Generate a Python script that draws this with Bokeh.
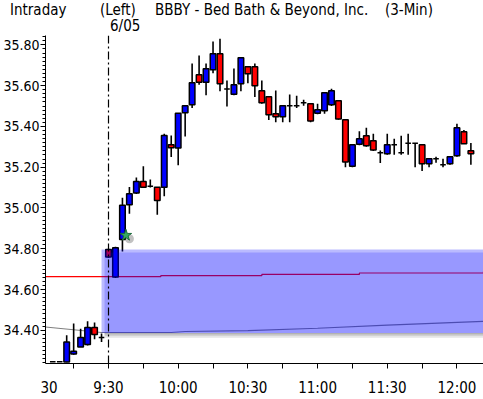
from bokeh.plotting import figure
from bokeh.layouts import column
from bokeh.models import (ColumnDataSource, Span, FixedTicker, LinearAxis, Div,
                          SingleIntervalTicker, NumeralTickFormatter)
from bokeh.embed import file_html
from bokeh.resources import INLINE

FONT = "DejaVu Sans Condensed"

# ---- data (3-min bars; index 0 = 9:30 bar of 6/05, negatives = prior session) ----
bar_index = list(range(-8, 53))
opens = [34.245, 34.245, 34.244, 34.284, 34.318, 34.330, 34.413, 34.364,
         34.796, 34.661, 34.845, 35.016, 35.073, 35.130, 35.107, 35.102,
         35.102, 35.310, 35.294, 35.467, 35.506, 35.653, 35.617, 35.678,
         35.756, 35.583, 35.558, 35.609, 35.693, 35.693, 35.575, 35.545,
         35.462, 35.447, 35.501, 35.501, 35.516, 35.511, 35.465, 35.477,
         35.506, 35.526, 35.433, 35.204, 35.313, 35.354, 35.330, 35.271,
         35.266, 35.310, 35.271, 35.318, 35.318, 35.310, 35.217, 35.242,
         35.212, 35.217, 35.256, 35.374, 35.281]
highs = [34.245, 34.245, 34.375, 34.433, 34.408, 34.444, 34.438, 34.384,
         34.800, 34.810, 35.050, 35.103, 35.150, 35.204, 35.140, 35.102,
         35.364, 35.356, 35.464, 35.501, 35.709, 35.748, 35.709, 35.817,
         35.830, 35.625, 35.684, 35.737, 35.693, 35.709, 35.625, 35.545,
         35.576, 35.501, 35.557, 35.550, 35.531, 35.511, 35.511, 35.565,
         35.585, 35.526, 35.433, 35.310, 35.376, 35.394, 35.364, 35.282,
         35.364, 35.340, 35.354, 35.364, 35.318, 35.310, 35.242, 35.251,
         35.242, 35.251, 35.413, 35.383, 35.319]
lows = [34.245, 34.245, 34.243, 34.280, 34.318, 34.325, 34.356, 34.343,
        34.755, 34.656, 34.787, 34.972, 35.068, 35.098, 35.100, 34.967,
        35.058, 35.250, 35.210, 35.351, 35.490, 35.604, 35.553, 35.661,
        35.573, 35.498, 35.553, 35.573, 35.612, 35.544, 35.511, 35.431,
        35.421, 35.421, 35.421, 35.490, 35.501, 35.420, 35.460, 35.462,
        35.500, 35.433, 35.200, 35.200, 35.308, 35.300, 35.279, 35.220,
        35.261, 35.261, 35.261, 35.261, 35.200, 35.181, 35.200, 35.222,
        35.200, 35.212, 35.251, 35.315, 35.212]
closes = [34.245, 34.245, 34.343, 34.297, 34.364, 34.413, 34.379, 34.364,
          34.759, 34.805, 35.013, 35.070, 35.130, 35.102, 35.107, 35.036,
          35.356, 35.295, 35.464, 35.501, 35.614, 35.617, 35.683, 35.756,
          35.609, 35.583, 35.604, 35.737, 35.658, 35.600, 35.516, 35.457,
          35.447, 35.501, 35.501, 35.501, 35.516, 35.426, 35.482, 35.565,
          35.575, 35.436, 35.225, 35.310, 35.340, 35.305, 35.284, 35.271,
          35.310, 35.310, 35.271, 35.318, 35.318, 35.217, 35.242, 35.242,
          35.212, 35.251, 35.393, 35.315, 35.266]

# reference lines
red_line_x = [-9.04, 7.5, 22.0, 36.0, 53.81]
red_line_y = [34.663, 34.668, 34.674, 34.681, 34.689]
gray_line_x = [-9.04, -1.0, 9.0, 11.0, 20.0, 30.0, 40.0, 53.81]
gray_line_y = [34.416, 34.389, 34.389, 34.394, 34.398, 34.410, 34.425, 34.444]

# opening-gap zone
zone_left = -1.0
zone_top = 34.796
zone_bottom = 34.387

# marker
star_x = [2.5]
star_y = [34.866]

tick_positions = [-5, 0, 5, 10, 15, 20, 25, 30, 35, 40, 45, 50]
label_positions = [-8.54, 0, 10, 20, 30, 40, 50]
label_texts = ["30", "9:30", "10:00", "10:30", "11:00", "11:30", "12:00"]
y_interval = 0.2
session_break = 0

header_texts = ["Intraday", "(Left)", "BBBY - Bed Bath &amp; Beyond, Inc.", "(3-Min)", "6/05"]
header_left = [10, 100, 155, 385, 110]
header_top = [3, 3, 3, 3, 19]

x_start, x_end = -9.04, 53.81
y_start, y_end = 34.237, 35.846

W = 483
HDR_H = 34
MAIN_H = 365
FRAME_W = 440
FRAME_H = 328

# ---- header ----
spans = "".join(
    f'<span style="position:absolute;left:{l}px;top:{t}px;white-space:nowrap;">{s}</span>'
    for s, l, t in zip(header_texts, header_left, header_top))
hdr = Div(text=f'<div style="position:relative;width:{W}px;height:{HDR_H}px;'
               f'font-family:\'{FONT}\';font-size:15px;line-height:15px;color:#000;">'
               f'{spans}</div>',
          width=W, height=HDR_H, margin=(0, 0, 0, 0))

# ---- main chart ----
p = figure(width=W, height=MAIN_H, output_backend="svg", toolbar_location=None,
           x_range=(x_start, x_end), y_range=(y_start, y_end),
           min_border_left=W - FRAME_W, min_border_right=0, min_border_top=1,
           min_border_bottom=MAIN_H - 1 - FRAME_H)
p.xgrid.visible = False
p.ygrid.visible = False
p.outline_line_color = None

PX_X = (x_end - x_start) / FRAME_W
PX_Y = (y_end - y_start) / FRAME_H

colors = []
for o, c in zip(opens, closes):
    if c > o:
        colors.append("#0000ff")
    elif c < o:
        colors.append("#ff0000")
    else:
        colors.append("#000000")

src = ColumnDataSource(dict(x=bar_index, o=opens, h=highs, l=lows, c=closes,
                            top=[max(a, b) for a, b in zip(opens, closes)],
                            bot=[min(a, b) for a, b in zip(opens, closes)],
                            col=colors))

p.step(red_line_x, red_line_y, line_color="#ff0000", line_width=1.2, mode="after")
p.line(gray_line_x, gray_line_y, line_color="#808080", line_width=1.2)

p.segment(x0="x", y0="h", x1="x", y1="l", source=src, line_color="black", line_width=1.6)
p.vbar(x="x", width=0.8, top="top", bottom="bot", source=src,
       fill_color="col", line_color="black", line_width=1.5)

# shadow below zone
for k, a in enumerate([0.30, 0.18, 0.08]):
    p.quad(left=zone_left + 3 * PX_X, right=x_end + 5,
           top=zone_bottom - k * 1.7 * PX_Y, bottom=zone_bottom - (k + 1) * 1.7 * PX_Y,
           fill_color="black", fill_alpha=a, line_color=None)
# zone with soft edge
p.quad(left=zone_left, right=x_end + 5, top=zone_top, bottom=zone_bottom,
       fill_color="#0000ff", fill_alpha=0.27, line_color=None)
p.quad(left=zone_left + 3 * PX_X, right=x_end + 5, top=zone_top - 3 * PX_Y,
       bottom=zone_bottom, fill_color="#0000ff", fill_alpha=0.18, line_color=None)

# star marker with shadow
p.scatter([star_x[0] + 0.5], [star_y[0] - 0.017], size=9, marker="circle",
          fill_color="#333333", fill_alpha=0.3, line_color=None)
p.scatter(star_x, star_y, size=12, marker="star", fill_color="#36a860",
          line_color="#1d6b3c", line_width=1)

p.add_layout(Span(location=session_break, dimension="height", line_color="black",
                  line_width=1.2, line_dash="8 3 2 3"))

# y axis
p.yaxis.ticker = SingleIntervalTicker(interval=y_interval, num_minor_ticks=10)
p.yaxis.formatter = NumeralTickFormatter(format="0.00")
p.yaxis.major_label_text_font = FONT
p.yaxis.major_label_text_font_size = "14px"
p.yaxis.major_label_text_color = "black"
p.yaxis.major_label_standoff = 1
p.yaxis.major_tick_out = 5
p.yaxis.major_tick_in = 0
p.yaxis.minor_tick_out = 3
p.yaxis.minor_tick_in = 0
p.yaxis.axis_line_color = "black"
p.yaxis.major_tick_line_color = "black"
p.yaxis.minor_tick_line_color = "black"

# x axis: tick marks only
p.xaxis.ticker = FixedTicker(ticks=tick_positions, minor_ticks=[])
p.xaxis.major_label_overrides = {t: "" for t in tick_positions}
p.xaxis.major_label_text_font_size = "0px"
p.xaxis.major_label_standoff = 0
p.xaxis.major_tick_out = 5
p.xaxis.major_tick_in = 0
p.xaxis.axis_line_color = "black"
p.xaxis.major_tick_line_color = "black"

# x axis: time labels
lab_ax = LinearAxis(ticker=FixedTicker(ticks=label_positions, minor_ticks=[]),
                    major_label_overrides=dict(zip(label_positions, label_texts)),
                    axis_line_color=None, major_tick_line_color=None,
                    minor_tick_line_color=None, major_tick_out=0, major_tick_in=0,
                    major_label_standoff=10, major_label_text_font=FONT,
                    major_label_text_font_size="15px", major_label_text_color="black")
p.add_layout(lab_ax, "below")

layout = column(hdr, p, spacing=0)
open("out.html", "w").write(file_html(layout, INLINE))
